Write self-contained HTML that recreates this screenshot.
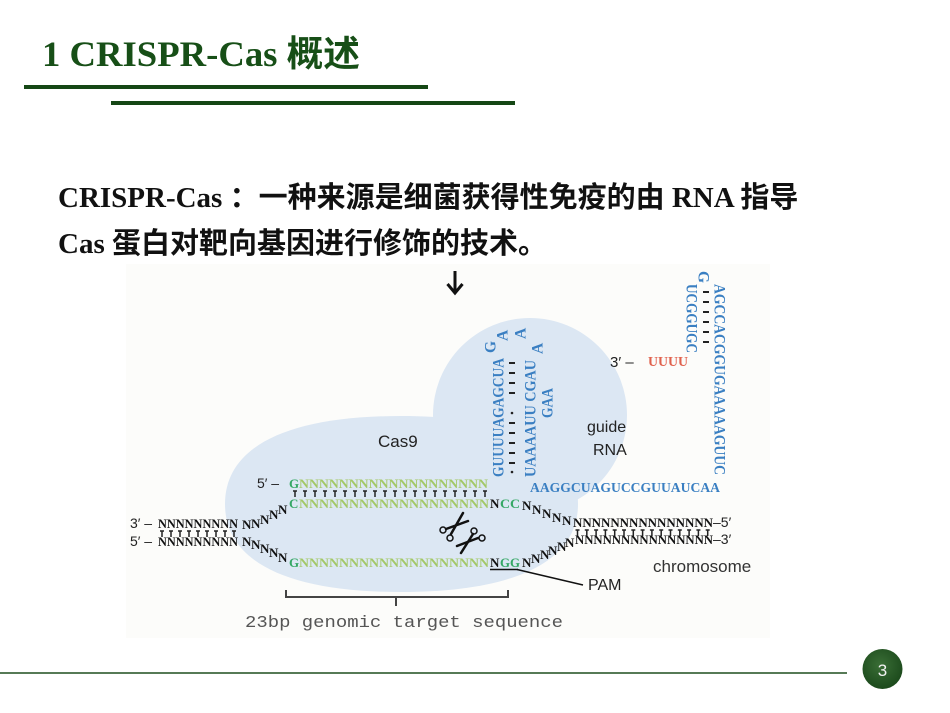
<!DOCTYPE html>
<html>
<head>
<meta charset="utf-8">
<style>
html,body{margin:0;padding:0;background:#ffffff;}
body{width:950px;height:713px;overflow:hidden;position:relative;}
svg{position:absolute;left:0;top:0;}
.ser{font-family:"Liberation Serif","Noto Sans CJK SC",serif;font-weight:bold;}
.n{font-family:"Liberation Serif",serif;font-weight:bold;font-size:13px;}
.sans{font-family:"Liberation Sans",sans-serif;}
.bl{font-family:"Liberation Serif",serif;font-weight:bold;font-size:15.5px;fill:#3a7fc2;}
.bh{font-family:"Liberation Serif",serif;font-weight:bold;font-size:14px;fill:#3a7fc2;}
</style>
</head>
<body>
<svg width="950" height="713" viewBox="0 0 950 713" xmlns="http://www.w3.org/2000/svg">
  <defs>
    <radialGradient id="pg" cx="45%" cy="40%" r="60%">
      <stop offset="0" stop-color="#3a6e36"/>
      <stop offset="1" stop-color="#1c4a1c"/>
    </radialGradient>
  </defs>

  <!-- Title -->
  <text x="42" y="66" class="ser" font-size="36" fill="#174f17" textLength="318" lengthAdjust="spacingAndGlyphs">1 CRISPR-Cas 概述</text>
  <rect x="24" y="85" width="404" height="4" fill="#154715"/>
  <rect x="111" y="101" width="404" height="4" fill="#154715"/>

  <!-- Body text -->
  <text x="58" y="207" class="ser" font-size="29" fill="#111">CRISPR-Cas ：一种来源是细菌获得性免疫的由 RNA 指导</text>
  <text x="58" y="253" class="ser" font-size="29" fill="#111">Cas 蛋白对靶向基因进行修饰的技术。</text>

  <!-- Diagram background -->
  <rect x="126" y="264" width="644" height="374" fill="#fcfcfa"/>

  <!-- Cas9 blue shape -->
  <path d="M401,416 C286,416 225,447 225,504 C225,561 286,592 401,592 C516,592 578,561 578,504 C578,447 516,416 401,416 Z" fill="#dce7f3"/>
  <circle cx="530" cy="415" r="97" fill="#dce7f3"/>

  <!-- Down arrow -->
  <line x1="455" y1="271" x2="455" y2="292" stroke="#111" stroke-width="3"/>
  <polyline points="447.5,284 455,293 462.5,284" fill="none" stroke="#111" stroke-width="3"/>

  <!-- Labels -->
  <text x="378" y="447" class="sans" font-size="17" fill="#222">Cas9</text>
  <text x="587" y="432" class="sans" font-size="16" fill="#222">guide</text>
  <text x="593" y="455" class="sans" font-size="16" fill="#222">RNA</text>
  <text x="653" y="572" class="sans" font-size="17" fill="#333">chromosome</text>
  <text x="588" y="590" class="sans" font-size="16" fill="#222">PAM</text>
  <text x="610" y="367" class="sans" font-size="15" fill="#222">3′ –</text>
  <text x="648" y="366" class="n" fill="#e0604c" style="font-size:14px" textLength="40" lengthAdjust="spacingAndGlyphs">UUUU</text>

  <!-- guide RNA vertical stems -->
  <text class="bl" transform="translate(503.5,477) rotate(-90)" textLength="119" lengthAdjust="spacingAndGlyphs">GUUUUAGAGCUA</text>
  <text class="bl" transform="translate(535.5,477) rotate(-90)" textLength="117" lengthAdjust="spacingAndGlyphs">UAAAAUU CGAU</text>
  <text class="bl" transform="translate(552.5,418) rotate(-90)" textLength="30" lengthAdjust="spacingAndGlyphs">GAA</text>
  <text class="bl" transform="translate(495.5,353) rotate(-90)">G</text>
  <text class="bl" transform="translate(507.5,341) rotate(-90)">A</text>
  <text class="bl" transform="translate(525.5,339) rotate(-90)">A</text>
  <text class="bl" transform="translate(542.5,354) rotate(-90)">A</text>
  <g stroke="#222" stroke-width="2">
    <line x1="509" y1="363" x2="515" y2="363"/>
    <line x1="509" y1="373" x2="515" y2="373"/>
    <line x1="509" y1="383" x2="515" y2="383"/>
    <line x1="509" y1="393" x2="515" y2="393"/>
    <line x1="509" y1="423" x2="515" y2="423"/>
    <line x1="509" y1="433" x2="515" y2="433"/>
    <line x1="509" y1="443" x2="515" y2="443"/>
    <line x1="509" y1="453" x2="515" y2="453"/>
    <line x1="509" y1="463" x2="515" y2="463"/>
  </g>
  <circle cx="512" cy="413" r="1.3" fill="#222"/>
  <circle cx="512" cy="472" r="1.3" fill="#222"/>

  <!-- right hairpin -->
  <text class="bl" transform="translate(714.5,284) rotate(90)" textLength="191" lengthAdjust="spacingAndGlyphs">AGCCACGGUGAAAAAGUUC</text>
  <text class="bl" transform="translate(686.5,284) rotate(90)" textLength="69" lengthAdjust="spacingAndGlyphs">UCGGUGC</text>
  <text class="bl" transform="translate(698.5,271) rotate(90)">G</text>
  <g stroke="#222" stroke-width="2">
    <line x1="703" y1="292" x2="709" y2="292"/>
    <line x1="703" y1="302" x2="709" y2="302"/>
    <line x1="703" y1="312" x2="709" y2="312"/>
    <line x1="703" y1="322" x2="709" y2="322"/>
    <line x1="703" y1="332" x2="709" y2="332"/>
    <line x1="703" y1="342" x2="709" y2="342"/>
  </g>
  <text class="bh" x="530" y="492" textLength="190" lengthAdjust="spacingAndGlyphs">AAGGCUAGUCCGUUAUCAA</text>

  <!-- Row 1: 5' G NNN -->
  <text x="257" y="488" class="sans" font-size="14" fill="#222">5′ –</text>
  <text x="289" y="488" class="n" fill="#36a866">G</text>
  <text x="299" y="488" class="n" fill="#a3c867" textLength="189" lengthAdjust="spacingAndGlyphs">NNNNNNNNNNNNNNNNNNN</text>
  <path d="M293,491h4M295,491v6 M303,491h4M305,491v6 M313,491h4M315,491v6 M323,491h4M325,491v6 M333,491h4M335,491v6 M343,491h4M345,491v6 M353,491h4M355,491v6 M363,491h4M365,491v6 M373,491h4M375,491v6 M383,491h4M385,491v6 M393,491h4M395,491v6 M403,491h4M405,491v6 M413,491h4M415,491v6 M423,491h4M425,491v6 M433,491h4M435,491v6 M443,491h4M445,491v6 M453,491h4M455,491v6 M463,491h4M465,491v6 M473,491h4M475,491v6 M483,491h4M485,491v6" stroke="#222" stroke-width="1.5" fill="none"/>

  <!-- Row 2 -->
  <text x="289" y="508" class="n" fill="#36a866">C</text>
  <text x="299" y="508" class="n" fill="#a3c867" textLength="190" lengthAdjust="spacingAndGlyphs">NNNNNNNNNNNNNNNNNNN</text>
  <text x="490" y="508" class="n" fill="#111">N</text>
  <text x="500" y="508" class="n" fill="#36a866" textLength="20" lengthAdjust="spacingAndGlyphs">CC</text>

  <!-- Row 4 -->
  <text x="289" y="567" class="n" fill="#36a866">G</text>
  <text x="299" y="567" class="n" fill="#a3c867" textLength="190" lengthAdjust="spacingAndGlyphs">NNNNNNNNNNNNNNNNNNN</text>
  <text x="490" y="567" class="n" fill="#111">N</text>
  <text x="500" y="567" class="n" fill="#36a866" textLength="20" lengthAdjust="spacingAndGlyphs">GG</text>
  <line x1="490" y1="569.5" x2="518" y2="569.5" stroke="#111" stroke-width="1.5"/>
  <line x1="517" y1="569.5" x2="583" y2="585" stroke="#111" stroke-width="1.5"/>

  <!-- Left chromosome rows -->
  <text x="130" y="528" class="sans" font-size="14" fill="#222">3′ –</text>
  <text x="158" y="528" class="n" fill="#111" textLength="80" lengthAdjust="spacingAndGlyphs">NNNNNNNNN</text>
  <text x="130" y="546" class="sans" font-size="14" fill="#222">5′ –</text>
  <text x="158" y="546" class="n" fill="#111" textLength="80" lengthAdjust="spacingAndGlyphs">NNNNNNNNN</text>
  <path d="M160,531h4M162,531v6 M169,531h4M171,531v6 M178,531h4M180,531v6 M187,531h4M189,531v6 M196,531h4M198,531v6 M205,531h4M207,531v6 M214,531h4M216,531v6 M223,531h4M225,531v6 M232,531h4M234,531v6" stroke="#222" stroke-width="1.5" fill="none"/>
  <!-- left ascending / descending -->
  <text x="242" y="529" class="n" fill="#111">N</text>
  <text x="251" y="528" class="n" fill="#111">N</text>
  <text x="260" y="524" class="n" fill="#111">N</text>
  <text x="269" y="519" class="n" fill="#111">N</text>
  <text x="278" y="514" class="n" fill="#111">N</text>
  <text x="242" y="546" class="n" fill="#111">N</text>
  <text x="251" y="549" class="n" fill="#111">N</text>
  <text x="260" y="553" class="n" fill="#111">N</text>
  <text x="269" y="557" class="n" fill="#111">N</text>
  <text x="278" y="562" class="n" fill="#111">N</text>

  <!-- right descending / ascending -->
  <text x="522" y="510" class="n" fill="#111">N</text>
  <text x="532" y="514" class="n" fill="#111">N</text>
  <text x="542" y="518" class="n" fill="#111">N</text>
  <text x="552" y="522" class="n" fill="#111">N</text>
  <text x="562" y="525" class="n" fill="#111">N</text>
  <text x="522" y="567" class="n" fill="#111">N</text>
  <text x="531" y="563" class="n" fill="#111">N</text>
  <text x="540" y="559" class="n" fill="#111">N</text>
  <text x="548" y="555" class="n" fill="#111">N</text>
  <text x="557" y="551" class="n" fill="#111">N</text>
  <text x="565" y="547" class="n" fill="#111">N</text>

  <!-- Right chromosome rows -->
  <text x="573" y="527" class="n" fill="#111" textLength="140" lengthAdjust="spacingAndGlyphs">NNNNNNNNNNNNNNN</text>
  <text x="713" y="527" class="sans" font-size="14" fill="#222">–5′</text>
  <text x="575" y="544" class="n" fill="#111" textLength="138" lengthAdjust="spacingAndGlyphs">NNNNNNNNNNNNNNN</text>
  <text x="713" y="544" class="sans" font-size="14" fill="#222">–3′</text>
  <path d="M575.5,530h4M577.5,530v6 M584.8,530h4M586.8,530v6 M594.1,530h4M596.1,530v6 M603.4,530h4M605.4,530v6 M612.7,530h4M614.7,530v6 M622,530h4M624,530v6 M631.3,530h4M633.3,530v6 M640.6,530h4M642.6,530v6 M649.9,530h4M651.9,530v6 M659.2,530h4M661.2,530v6 M668.5,530h4M670.5,530v6 M677.8,530h4M679.8,530v6 M687.1,530h4M689.1,530v6 M696.4,530h4M698.4,530v6 M705.7,530h4M707.7,530v6" stroke="#222" stroke-width="1.5" fill="none"/>

  <!-- Scissors -->
  <g stroke="#111" stroke-linecap="round" fill="none">
    <line x1="446" y1="529" x2="468" y2="521" stroke-width="2.5"/>
    <line x1="451" y1="534" x2="463" y2="513" stroke-width="2.5"/>
    <circle cx="443" cy="530" r="3" stroke-width="1.5"/>
    <circle cx="450" cy="538" r="3" stroke-width="1.5"/>
    <line x1="473" y1="534" x2="461" y2="553" stroke-width="2.5"/>
    <line x1="478" y1="538" x2="457" y2="546" stroke-width="2.5"/>
    <circle cx="474" cy="531" r="3" stroke-width="1.5"/>
    <circle cx="482" cy="538" r="3" stroke-width="1.5"/>
  </g>

  <!-- Bracket -->
  <path d="M286,590 V597 H508 V590 M396,597 V606" stroke="#444" stroke-width="2" fill="none"/>
  <text x="245" y="627" font-family="Liberation Mono, monospace" font-size="17" fill="#555" textLength="318" lengthAdjust="spacingAndGlyphs">23bp genomic target sequence</text>

  <!-- Footer -->
  <line x1="0" y1="673" x2="847" y2="673" stroke="#1f4f1f" stroke-width="1.5"/>
  <circle cx="882.5" cy="669" r="20" fill="url(#pg)"/>
  <text x="882.5" y="676" text-anchor="middle" font-family="Liberation Sans Narrow, Liberation Sans, sans-serif" font-size="17" fill="#f2f2f2">3</text>
</svg>
</body>
</html>
